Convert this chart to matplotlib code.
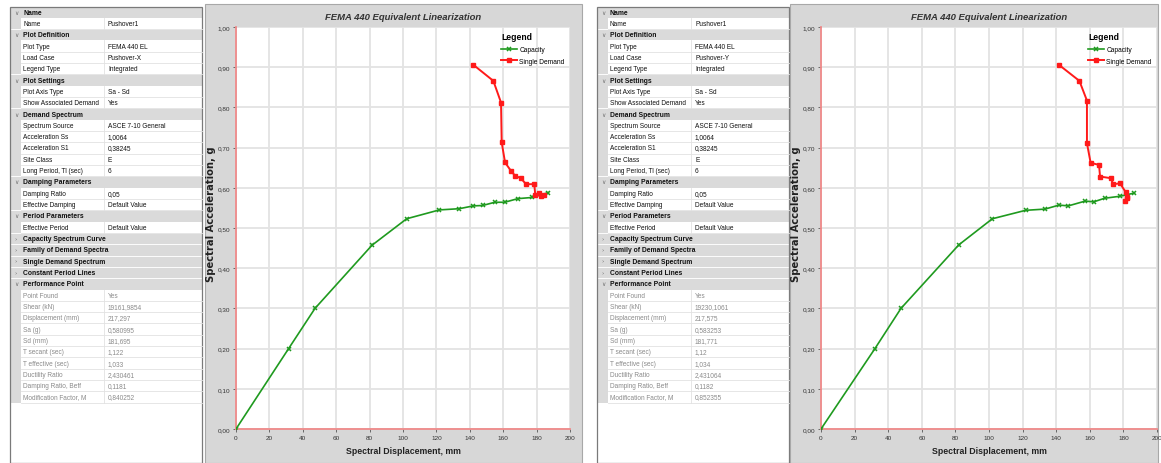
import matplotlib
matplotlib.use('Agg')
import matplotlib.pyplot as plt
from matplotlib.patches import Rectangle
from matplotlib.ticker import FuncFormatter, MultipleLocator

W, H = 1161, 464
NARROW = ['Liberation Sans Narrow', 'Liberation Sans', 'DejaVu Sans']

# Pushover-X : capacity curve and single demand spectrum (Sd mm, Sa g)
cap_x_X = [0, 31.5, 47.3, 81.4, 102.2, 121.8, 133.7, 142.1, 147.7, 154.9, 160.9, 168.7, 177.4, 187.0]
cap_y_X = [0, 0.200, 0.300, 0.457, 0.523, 0.545, 0.548, 0.555, 0.556, 0.564, 0.564, 0.573, 0.576, 0.588]
dem_x_X = [142.1, 154.1, 158.7, 159.1, 161.1, 164.5, 167.1, 170.5, 173.7, 178.6, 179.2, 181.2, 182.6, 184.2]
dem_y_X = [0.906, 0.866, 0.812, 0.713, 0.663, 0.643, 0.630, 0.624, 0.609, 0.609, 0.583, 0.586, 0.579, 0.581]

# Pushover-Y
cap_x_Y = [0, 32.1, 47.6, 82.0, 102.0, 121.8, 133.3, 141.7, 147.2, 157.3, 162.3, 168.8, 178.0, 186.5]
cap_y_Y = [0, 0.200, 0.300, 0.458, 0.523, 0.544, 0.547, 0.557, 0.555, 0.567, 0.565, 0.574, 0.579, 0.587]
dem_x_Y = [141.9, 153.8, 158.3, 158.3, 160.5, 165.5, 166.1, 172.4, 174.0, 178.0, 181.4, 182.2, 181.2, 182.4]
dem_y_Y = [0.905, 0.866, 0.817, 0.711, 0.662, 0.657, 0.628, 0.624, 0.609, 0.611, 0.589, 0.577, 0.567, 0.574]

# property grid: o = open section, c = collapsed section, i = item, r = read-only item
row_kind = ['o', 'i', 'o', 'i', 'i', 'i', 'o', 'i', 'i', 'o', 'i', 'i', 'i', 'i', 'i',
            'o', 'i', 'i', 'o', 'i', 'c', 'c', 'c', 'c', 'o',
            'r', 'r', 'r', 'r', 'r', 'r', 'r', 'r', 'r', 'r']
row_name = ['Name', 'Name', 'Plot Definition', 'Plot Type', 'Load Case', 'Legend Type',
            'Plot Settings', 'Plot Axis Type', 'Show Associated Demand', 'Demand Spectrum',
            'Spectrum Source', 'Acceleration Ss', 'Acceleration S1', 'Site Class',
            'Long Period, Tl (sec)', 'Damping Parameters', 'Damping Ratio', 'Effective Damping',
            'Period Parameters', 'Effective Period', 'Capacity Spectrum Curve',
            'Family of Demand Spectra', 'Single Demand Spectrum', 'Constant Period Lines',
            'Performance Point', 'Point Found', 'Shear (kN)', 'Displacement (mm)', 'Sa (g)',
            'Sd (mm)', 'T secant (sec)', 'T effective (sec)', 'Ductility Ratio',
            'Damping Ratio, Beff', 'Modification Factor, M']
head_vals = ['', 'Pushover1', '', 'FEMA 440 EL', None, 'Integrated', '', 'Sa - Sd', 'Yes', '',
             'ASCE 7-10 General', '1,0064', '0,38245', 'E', '6', '', '0,05', 'Default Value',
             '', 'Default Value', '', '', '', '', '', 'Yes']
perf_X = ['19161,9854', '217,297', '0,580995', '181,695', '1,122', '1,033', '2,430461', '0,1181', '0,840252']
perf_Y = ['19230,1061', '217,575', '0,583253', '181,771', '1,12', '1,034', '2,431064', '0,1182', '0,852355']

fig = plt.figure(figsize=(W / 100, H / 100), dpi=100)
fig.patch.set_facecolor('white')
bg = fig.add_axes([0, 0, 1, 1])
bg.set_xlim(0, W)
bg.set_ylim(H, 0)
bg.axis('off')

ROW_TOP, ROW_H, GRID_W = 7.5, 11.32, 192


def draw_grid(x0, load_case, perf):
    vals = [load_case if v is None else v for v in head_vals] + perf
    for k, (kind, name, val) in enumerate(zip(row_kind, row_name, vals)):
        y = ROW_TOP + k * ROW_H
        yc = y + ROW_H / 2
        if kind in 'oc':
            bg.add_patch(Rectangle((x0, y), GRID_W, ROW_H, fc='#dadada', ec='white', lw=0.6))
            bg.text(x0 + 4, yc, '∨' if kind == 'o' else '›', fontsize=4.2, color='#707070',
                    family='DejaVu Sans', va='center', ha='left')
            bg.text(x0 + 13, yc, name, fontsize=4.9, fontweight='bold', family=NARROW,
                    va='center', ha='left', color='#111111')
        else:
            bg.add_patch(Rectangle((x0, y), 11, ROW_H, fc='#dadada', ec='none'))
            bg.add_patch(Rectangle((x0 + 11, y), GRID_W - 11, ROW_H, fc='white', ec='none'))
            bg.plot([x0 + 11, x0 + GRID_W], [y + ROW_H, y + ROW_H], color='#e2e2e2', lw=0.6)
            bg.plot([x0 + 94, x0 + 94], [y, y + ROW_H], color='#e2e2e2', lw=0.6)
            col = '#8a8a8a' if kind == 'r' else '#111111'
            bg.text(x0 + 13, yc, name, fontsize=4.7, family=NARROW, va='center', ha='left', color=col)
            bg.text(x0 + 98, yc, val, fontsize=4.7, family=NARROW, va='center', ha='left', color=col)
    bg.add_patch(Rectangle((x0, ROW_TOP), GRID_W, H - ROW_TOP, fc='none', ec='#7a7a7a', lw=0.9))


def comma(v, pos):
    return ('%.2f' % v).replace('.', ',')


def draw_chart(px, ax_px, cap_x, cap_y, dem_x, dem_y):
    # gray chart panel
    bg.add_patch(Rectangle((px[0], px[1]), px[2] - px[0], H - px[1], fc='#d7d7d7', ec='#a8a8a8', lw=0.8))
    l, t, r, b = ax_px
    ax = fig.add_axes([l / W, (H - b) / H, (r - l) / W, (b - t) / H])
    ax.set_facecolor('white')
    ax.plot(cap_x, cap_y, color='#1f9a1f', lw=1.2, marker='x', ms=3, mew=1.1, label='Capacity', zorder=3)
    ax.plot(dem_x, dem_y, color='#ff1a1a', lw=1.4, marker='s', ms=2.4, label='Single Demand', zorder=4)
    ax.set_xlim(0, 200)
    ax.set_ylim(0, 1)
    ax.xaxis.set_major_locator(MultipleLocator(20))
    ax.yaxis.set_major_locator(MultipleLocator(0.1))
    ax.yaxis.set_major_formatter(FuncFormatter(comma))
    ax.grid(True, color='#e3e3e3', lw=1.3)
    ax.set_axisbelow(True)
    for s in ['top', 'right']:
        ax.spines[s].set_visible(False)
    for s in ['left', 'bottom']:
        ax.spines[s].set_color('#f08a8a')
        ax.spines[s].set_linewidth(1.3)
    ax.tick_params(length=2.5, width=0.6, color='#555555', labelsize=4.6, labelcolor='#333333', pad=1.5)
    for lab in ax.get_xticklabels() + ax.get_yticklabels():
        lab.set_family(NARROW)
    ax.text(0.5, 1 + 11 / (b - t), 'FEMA 440 Equivalent Linearization', transform=ax.transAxes,
            ha='center', va='center', fontsize=6.8, fontweight='bold', style='italic',
            family=NARROW, color='#333333')
    ax.set_xlabel('Spectral Displacement, mm', fontsize=6.3, fontweight='bold', family=NARROW,
                  color='#222222', labelpad=5)
    bg.text(px[0] + 6, 214, 'Spectral Acceleration, g', rotation=90, ha='center', va='center',
            fontsize=7.2, fontweight='bold', color='#222222')
    leg = ax.legend(loc='upper right', bbox_to_anchor=(1.0, 1.0), frameon=False, title='Legend',
                    prop={'family': NARROW, 'size': 4.8}, handlelength=2.3, handletextpad=0.4,
                    labelspacing=0.7, borderaxespad=0.4, alignment='left')
    leg.get_title().set_fontproperties({'family': NARROW, 'size': 6.2, 'weight': 'bold'})
    return ax


draw_grid(10, 'Pushover-X', perf_X)
draw_chart((205, 5, 582), (236, 28, 570, 430), cap_x_X, cap_y_X, dem_x_X, dem_y_X)

draw_grid(597, 'Pushover-Y', perf_Y)
draw_chart((790, 5, 1158), (821, 28, 1157, 430), cap_x_Y, cap_y_Y, dem_x_Y, dem_y_Y)

fig.savefig('out.png', dpi=100)
